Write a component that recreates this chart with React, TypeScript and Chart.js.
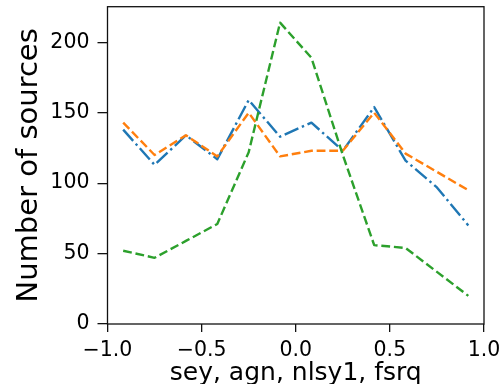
import React, { useEffect, useRef } from "react";
import { Chart, registerables } from "chart.js";

Chart.register(...registerables);

const binCenters = [-0.9167, -0.75, -0.5833, -0.4167, -0.25, -0.0833, 0.0833, 0.25, 0.4167, 0.5833, 0.75, 0.9167];
const blueSeries = [138, 113, 134, 117, 159, 133, 143, 123, 154, 116, 97, 70];
const orangeSeries = [143, 120, 134, 119, 150, 119, 123, 123, 150, 121, 108, 95];
const greenSeries = [52, 47, 59, 71, 122, 214, 189, 120, 56, 54, 37, 20];
const xTickValues = [-1, -0.5, 0, 0.5, 1];
const xTickLabels = ["\u22121.0", "\u22120.5", "0.0", "0.5", "1.0"];
const yTickValues = [0, 50, 100, 150, 200];
const yTickLabels = ["0", "50", "100", "150", "200"];
const xTitle = "sey, agn, nlsy1, fsrq";
const yTitle = "Number of sources";

const FONT = "'DejaVu Sans', sans-serif";

const framePlugin = {
  id: "frame",
  afterDatasetsDraw(chart: any) {
    const { ctx, chartArea } = chart;
    ctx.save();
    ctx.strokeStyle = "#111";
    ctx.lineWidth = 1.3;
    ctx.strokeRect(chartArea.left, chartArea.top, chartArea.right - chartArea.left, chartArea.bottom - chartArea.top);
    ctx.restore();
  },
};

export default function App() {
  const ref = useRef<HTMLCanvasElement | null>(null);
  useEffect(() => {
    if (!ref.current) return;
    const pts = (arr: number[]) => arr.map((v, i) => ({ x: binCenters[i], y: v }));
    const common = { pointRadius: 0, borderWidth: 2.4, tension: 0, borderCapStyle: "butt", borderJoinStyle: "round", fill: false };
    const chart = new Chart(ref.current, {
      type: "line",
      data: {
        datasets: [
          { ...common, label: "blue", data: pts(blueSeries), borderColor: "#1f77b4", borderDash: [15, 3.8, 2.4, 3.8], order: 2 },
          { ...common, label: "orange", data: pts(orangeSeries), borderColor: "#ff7f0e", borderDash: [8.8, 3.8], order: 1 },
          { ...common, label: "green", data: pts(greenSeries), borderColor: "#2ca02c", borderDash: [8.8, 3.8], order: 0 },
        ] as any,
      },
      options: {
        animation: false,
        responsive: false,
        layout: { padding: { top: 6.7, right: 18, left: 0, bottom: 0 } },
        plugins: { legend: { display: false }, tooltip: { enabled: false }, title: { display: false } },
        scales: {
          x: {
            type: "linear",
            min: -1,
            max: 1,
            border: { display: false },
            grid: { drawOnChartArea: false, drawTicks: true, tickLength: 8, color: "#111", lineWidth: 1.3 },
            afterBuildTicks: (s: any) => { s.ticks = xTickValues.map((v) => ({ value: v })); },
            afterFit: (s: any) => { s.height = 60; s.paddingLeft = 0; s.paddingRight = 0; },
            ticks: {
              color: "#000",
              padding: 6.5,
              maxRotation: 0,
              font: { family: FONT, size: 20.5 },
              callback: (v: any) => { const i = xTickValues.indexOf(Number(v)); return i >= 0 ? xTickLabels[i] : ""; },
            },
            title: { display: true, text: xTitle, color: "#000", font: { family: FONT, size: 25, lineHeight: 1 }, padding: { top: 0, bottom: -2 } },
          },
          y: {
            type: "linear",
            min: 0,
            max: 225.3,
            border: { display: false },
            grid: { drawOnChartArea: false, drawTicks: true, tickLength: 10, color: "#111", lineWidth: 1.3 },
            afterBuildTicks: (s: any) => { s.ticks = yTickValues.map((v) => ({ value: v })); },
            afterFit: (s: any) => { s.width = 107.5; s.paddingTop = 0; s.paddingBottom = 0; },
            ticks: {
              color: "#000",
              padding: 8,
              font: { family: FONT, size: 20.5 },
              callback: (v: any) => { const i = yTickValues.indexOf(Number(v)); return i >= 0 ? yTickLabels[i] : ""; },
            },
            title: { display: true, text: yTitle, color: "#000", font: { family: FONT, size: 29, lineHeight: 1 }, padding: { top: 14.5, bottom: 0 } },
          },
        },
      } as any,
      plugins: [framePlugin],
    });
    return () => chart.destroy();
  }, []);
  return (
    <div style={{ position: "absolute", left: 0, top: 0, width: 502, height: 384, background: "#fff" }}>
      <canvas ref={ref} width={502} height={384} style={{ width: 502, height: 384, display: "block" }} />
    </div>
  );
}
